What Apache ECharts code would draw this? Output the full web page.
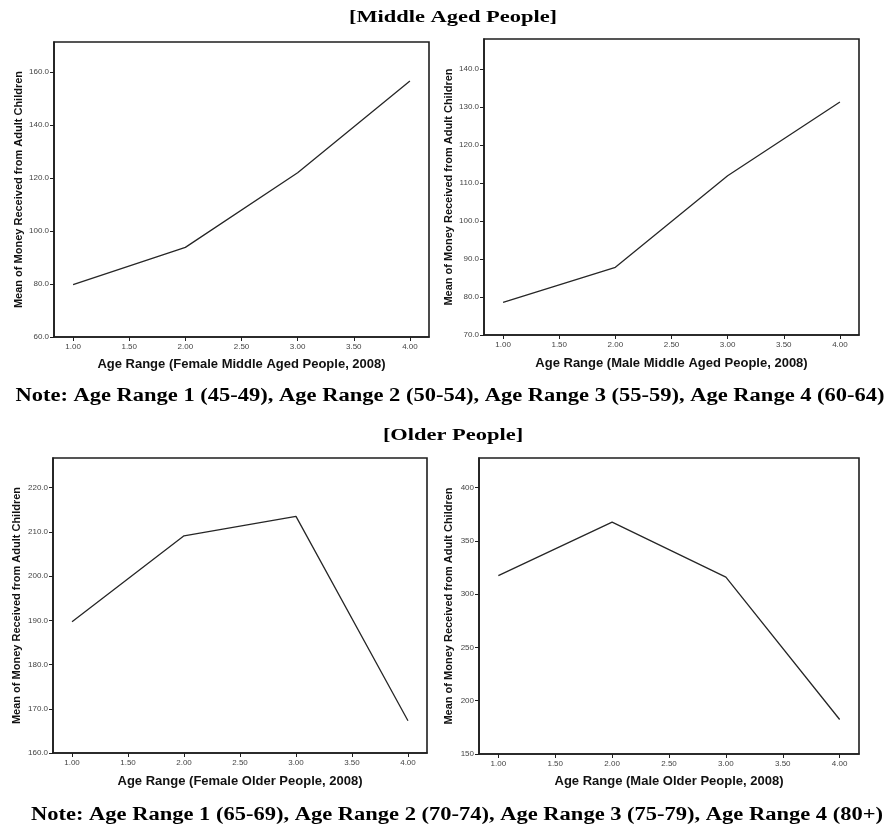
<!DOCTYPE html>
<html>
<head>
<meta charset="utf-8">
<style>
  html, body { margin: 0; padding: 0; background: #ffffff; }
  #chart { width: 893px; height: 826px; }
</style>
<script src="https://cdn.jsdelivr.net/npm/echarts@6/dist/echarts.min.js"></script>
</head>
<body>
<div id="chart"></div>
<script>
// Age range codes on the x axis (1 = youngest band, 4 = oldest band)
const ageRange = [1, 2, 3, 4];
const xTicks = [1, 1.5, 2, 2.5, 3, 3.5, 4];
const xRange = [0.83, 4.17];

// Mean money received from adult children, 2008
const femaleMiddle = [79.8, 93.8, 122.0, 156.6];
const maleMiddle = [78.6, 87.8, 111.9, 131.3];
const femaleOlder = [189.7, 209.1, 213.5, 167.3];
const maleOlder = [317.5, 367.7, 316.0, 182.4];

// Value-axis ticks and extents for each panel
const yTicksFemaleMiddle = [60, 80, 100, 120, 140, 160];
const yTicksMaleMiddle = [70, 80, 90, 100, 110, 120, 130, 140];
const yTicksFemaleOlder = [160, 170, 180, 190, 200, 210, 220];
const yTicksMaleOlder = [150, 200, 250, 300, 350, 400];
const yRangeFemaleMiddle = [60, 171.3];
const yRangeMaleMiddle = [70, 147.9];
const yRangeFemaleOlder = [160, 226.7];
const yRangeMaleOlder = [150, 427.9];

const xTitles = [
  'Age Range (Female Middle Aged People, 2008)',
  'Age Range (Male Middle Aged People, 2008)',
  'Age Range (Female Older People, 2008)',
  'Age Range (Male Older People, 2008)'
];
const yTitle = 'Mean of Money Received from Adult Children';
const headings = ['[Middle Aged People]', '[Older People]'];
const notes = [
  'Note: Age Range 1 (45-49), Age Range 2 (50-54), Age Range 3 (55-59), Age Range 4 (60-64)',
  'Note: Age Range 1 (65-69), Age Range 2 (70-74), Age Range 3 (75-79), Age Range 4 (80+)'
];

const panels = [
  { data: femaleMiddle, ticks: yTicksFemaleMiddle, range: yRangeFemaleMiddle, digits: 1,
    grid: { left: 54, top: 42, width: 375, height: 295 }, yGap: 30, xGap: 21 },
  { data: maleMiddle, ticks: yTicksMaleMiddle, range: yRangeMaleMiddle, digits: 1,
    grid: { left: 484, top: 39, width: 375, height: 296 }, yGap: 30, xGap: 22 },
  { data: femaleOlder, ticks: yTicksFemaleOlder, range: yRangeFemaleOlder, digits: 1,
    grid: { left: 53, top: 458, width: 374, height: 295 }, yGap: 31, xGap: 22 },
  { data: maleOlder, ticks: yTicksMaleOlder, range: yRangeMaleOlder, digits: 0,
    grid: { left: 479, top: 458, width: 380, height: 296 }, yGap: 25, xGap: 21 }
];

const INK = '#1e1e1e';
const SANS = '"Liberation Sans", Arial, sans-serif';
const SERIF = '"Liberation Serif", "Times New Roman", serif';

const grids = [], xAxes = [], yAxes = [], series = [];
panels.forEach((p, i) => {
  grids.push(Object.assign({ show: true, borderColor: INK, borderWidth: 1.6, backgroundColor: 'transparent' }, p.grid));
  xAxes.push({
    type: 'value', gridIndex: i, min: xRange[0], max: xRange[1],
    name: xTitles[i], nameLocation: 'middle', nameGap: p.xGap,
    nameTextStyle: { fontFamily: SANS, fontWeight: 'bold', fontSize: 13, color: '#111' },
    axisLine: { show: true, onZero: false, lineStyle: { color: INK, width: 1.6 } },
    axisTick: { show: true, inside: false, length: 4, customValues: xTicks, lineStyle: { color: INK, width: 1 } },
    axisLabel: { customValues: xTicks, fontFamily: SANS, fontSize: 8, color: '#444', margin: 6,
      formatter: v => v.toFixed(2) },
    splitLine: { show: false }
  });
  yAxes.push({
    type: 'value', gridIndex: i, min: p.range[0], max: p.range[1],
    name: yTitle, nameLocation: 'middle', nameGap: p.yGap,
    nameTextStyle: { fontFamily: SANS, fontWeight: 'bold', fontSize: 11, color: '#111' },
    axisLine: { show: true, onZero: false, lineStyle: { color: INK, width: 1.6 } },
    axisTick: { show: true, inside: false, length: 4, customValues: p.ticks, lineStyle: { color: INK, width: 1 } },
    axisLabel: { customValues: p.ticks, fontFamily: SANS, fontSize: 8, color: '#444', margin: 5,
      formatter: v => v.toFixed(p.digits) },
    splitLine: { show: false }
  });
  series.push({
    type: 'line', xAxisIndex: i, yAxisIndex: i,
    data: ageRange.map((a, k) => [a, p.data[k]]),
    showSymbol: false, symbol: 'none',
    lineStyle: { color: '#262626', width: 1.3 },
    animation: false
  });
});

function serifText(text, x, y, size, sx) {
  return {
    type: 'text', x: x, y: y, scaleX: sx,
    style: { text: text, font: 'bold ' + size + 'px ' + SERIF, fill: '#000',
      textAlign: 'center', textVerticalAlign: 'middle' }
  };
}

const chart = echarts.init(document.getElementById('chart'), null, { renderer: 'canvas' });
chart.setOption({
  backgroundColor: '#ffffff',
  animation: false,
  grid: grids,
  xAxis: xAxes,
  yAxis: yAxes,
  series: series,
  graphic: [
    serifText(headings[0], 453, 18, 17, 1.32),
    serifText(notes[0], 450, 396, 18, 1.25),
    serifText(headings[1], 453, 436, 17, 1.32),
    serifText(notes[1], 457, 815, 18, 1.25)
  ]
});
</script>
</body>
</html>
